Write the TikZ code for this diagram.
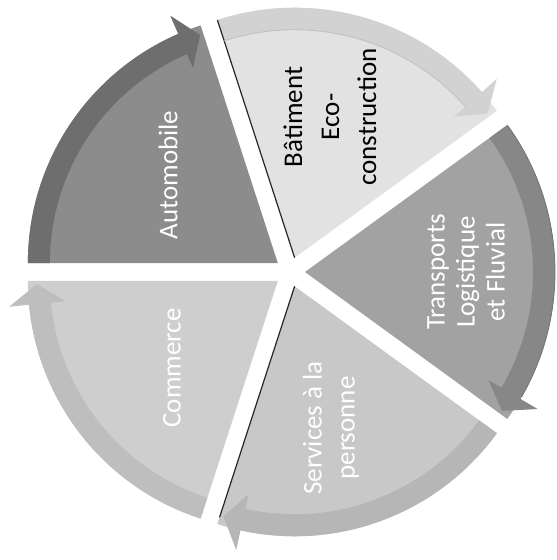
\documentclass[tikz,border=0pt]{standalone}
\usepackage{fontspec}
\setmainfont{Carlito}
\usetikzlibrary{calc}
\definecolor{AutoFill}{HTML}{8C8C8C}
\definecolor{AutoBand}{HTML}{6E6E6E}
\definecolor{BatFill}{HTML}{E2E2E2}
\definecolor{BatBand}{HTML}{D2D2D2}
\definecolor{TraFill}{HTML}{A2A2A2}
\definecolor{TraBand}{HTML}{878787}
\definecolor{SerFill}{HTML}{C8C8C8}
\definecolor{SerBand}{HTML}{B6B6B6}
\definecolor{ComFill}{HTML}{CECECE}
\definecolor{ComBand}{HTML}{BEBEBE}
\tikzset{
  slab/.style={rotate=90, align=center, text=white,
    font=\fontsize{27}{35}\selectfont, inner sep=0pt},
  edgeline/.style={draw=black!85, line width=1.2pt},
  rimline/.style={draw=black!55, line width=0.8pt}
}

\begin{document}
\begin{tikzpicture}[x=1pt,y=1pt]
  \useasboundingbox (0,0) rectangle (557,560);
  \coordinate (O) at (290,288);
  % slices with their arrow bands
  \foreach \a/\b/\fc/\bc/\nm in {108/180/AutoFill/AutoBand/auto,
      36/108/BatFill/BatBand/bat, -36/36/TraFill/TraBand/tra,
      -108/-36/SerFill/SerBand/ser, 180/252/ComFill/ComBand/com}{
    \coordinate (\nm) at ($(O)+({(\a+\b)/2}:15)$);
    \fill[\fc] (\nm) -- ($(\nm)+(\b:250)$)
      arc[start angle=\b, end angle=\a, radius=250] -- cycle;
    \fill[\bc] ($(\nm)+(\b:250)$)
      arc[start angle=\b, end angle={\a+5.5}, radius=250]
      -- ($(\nm)+({\a+5.5}:270)$) -- ($(\nm)+({\a+0.8}:241)$)
      -- ($(\nm)+({\a+5.5}:213)$) -- ($(\nm)+({\a+5.5}:228)$)
      arc[start angle={\a+5.5}, end angle=\b, radius=228] -- cycle;
  }
  % bevel lines
  \draw[edgeline] (bat) -- ($(bat)+(108:250)$);
  \draw[edgeline] (ser) -- ($(ser)+(-108:243)$);
  \draw[rimline] ($(tra)+(36:250)$) arc[start angle=36, end angle=-30, radius=250];
  \draw[rimline, draw=black!25] ($(bat)+(108:228)$) arc[start angle=108, end angle=41.5, radius=228];

  \node[slab] (autotxt) at (168,385) {Automobile};
  \node[slab, text=black, font=\fontsize{27}{37}\selectfont] (battxt) at (330,443)
    {Bâtiment\\Eco-\\construction};
  \node[slab, font=\fontsize{27}{30}\selectfont] (tratxt) at (466,288)
    {Transports\\Logistique\\et Fluvial};
  \node[slab, font=\fontsize{27}{33}\selectfont] (sertxt) at (331,132)
    {Services à la\\personne};
  \node[slab] (comtxt) at (172,192) {Commerce};
\end{tikzpicture}
\end{document}
